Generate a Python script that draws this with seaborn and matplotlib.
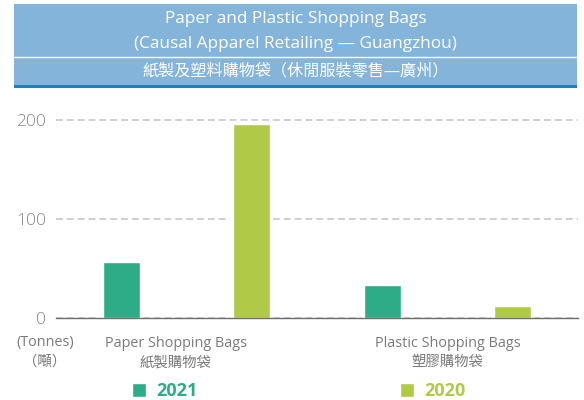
import pandas as pd
import seaborn as sns
import matplotlib
matplotlib.use("Agg")
import matplotlib.pyplot as plt
import matplotlib.patheffects as pe
from matplotlib.patches import Rectangle
from matplotlib.lines import Line2D
from matplotlib.transforms import offset_copy

# data
bags = ["Paper Shopping Bags\n紙製購物袋", "Plastic Shopping Bags\n塑膠購物袋"]
years = ["2021", "2020"]
tonnes_2021 = [57, 34]
tonnes_2020 = [196, 12]
yticks = [0, 100, 200]

title_en = "Paper and Plastic Shopping Bags\n(Causal Apparel Retailing — Guangzhou)"
title_zh = "紙製及塑料購物袋（休閒服裝零售—廣州）"
unit_label = "(Tonnes)\n（噸）"

green = "#2eac87"
lime = "#b0ca48"
colors = [green, lime]

df = pd.DataFrame({
    "bag": bags * 2,
    "year": [years[0]] * 2 + [years[1]] * 2,
    "tonnes": tonnes_2021 + tonnes_2020,
})

sns.set_theme(style="white")
plt.rcParams["font.family"] = ["Open Sans", "Noto Sans CJK TC", "DejaVu Sans"]

fig = plt.figure(figsize=(5.84, 4.0), dpi=100)
ax = fig.add_axes([0.0959, 0.2043, 0.8938, 0.5197])

sns.barplot(data=df, x="bag", y="tonnes", hue="year", hue_order=years,
            palette=colors, width=1.0, gap=0.717, saturation=1, ax=ax)

for p in ax.patches:
    p.set_path_effects([pe.Stroke(linewidth=4.5, foreground="white"), pe.Normal()])

handles, labels = ax.get_legend_handles_labels()
if ax.get_legend() is not None:
    ax.get_legend().remove()

ax.set_xlim(-0.5, 1.5)
ax.set_ylim(0, 210)
ax.set_yticks(yticks)
ax.set_xlabel("")
ax.set_ylabel("")
ax.set_xticks([0, 1])
ax.set_xticklabels([])
ax.tick_params(axis="y", length=0, pad=7, labelsize=12.5, labelcolor="#858585")
ax.tick_params(axis="x", length=0)
for t in ax.get_yticklabels():
    t.set_fontweight("light")

ax.set_axisbelow(True)
ax.yaxis.grid(True, color="#c2c2c2", linewidth=1.1, linestyle=(0, (4.5, 2.6)))
ax.xaxis.grid(False)
for s in ["top", "right", "left"]:
    ax.spines[s].set_visible(False)
ax.spines["bottom"].set_color("#6e6e6e")
ax.spines["bottom"].set_linewidth(1.0)

# category labels under the groups
shifts = [-11, 0]
for i, lab in enumerate(bags):
    tr = offset_copy(ax.get_xaxis_transform(), fig=fig, x=shifts[i], y=0, units="dots")
    ax.text(i, -0.085, lab, transform=tr, ha="center", va="top", fontsize=10.4,
            color="#7a7a7a", linespacing=1.4)

fig.text(45 / 584, 1 - 335 / 400, unit_label, ha="center", va="top", fontsize=10.4,
         color="#7a7a7a", linespacing=1.4)

# header band
fig.patches.append(Rectangle((14 / 584, 1 - 88 / 400), 563 / 584, 84 / 400,
                             transform=fig.transFigure, facecolor="#85b4db",
                             edgecolor="none", zorder=0))
fig.patches.append(Rectangle((14 / 584, 1 - 88 / 400), 563 / 584, 3.2 / 400,
                             transform=fig.transFigure, facecolor="#1f80c1",
                             edgecolor="none", zorder=1))
fig.lines.append(Line2D([14 / 584, 577 / 584], [1 - 57 / 400] * 2,
                        transform=fig.transFigure, color="white", linewidth=1.0))
fig.text(295.5 / 584, 1 - 22.7 / 400, title_en.split("\n")[0], ha="center",
         va="baseline", fontsize=12.4, color="white")
fig.text(295.5 / 584, 1 - 47.5 / 400, title_en.split("\n")[1], ha="center",
         va="baseline", fontsize=12.4, color="white")
fig.text(295.5 / 584, 1 - 71.5 / 400, title_zh, ha="center", va="center",
         fontsize=11.6, color="white")

# legend at the bottom
leg = fig.legend(handles, labels, loc="center left",
                 bbox_to_anchor=(132 / 584, 1 - 391.5 / 400), ncol=2,
                 frameon=False, borderpad=0, borderaxespad=0,
                 handlelength=0.8, handleheight=0.8, handletextpad=0.55,
                 columnspacing=11.2, prop={"size": 13, "weight": "bold"})
for txt, c in zip(leg.get_texts(), colors):
    txt.set_color(c)
for h in leg.legend_handles:
    h.set_path_effects([])

fig.savefig("out.png", dpi=100)
